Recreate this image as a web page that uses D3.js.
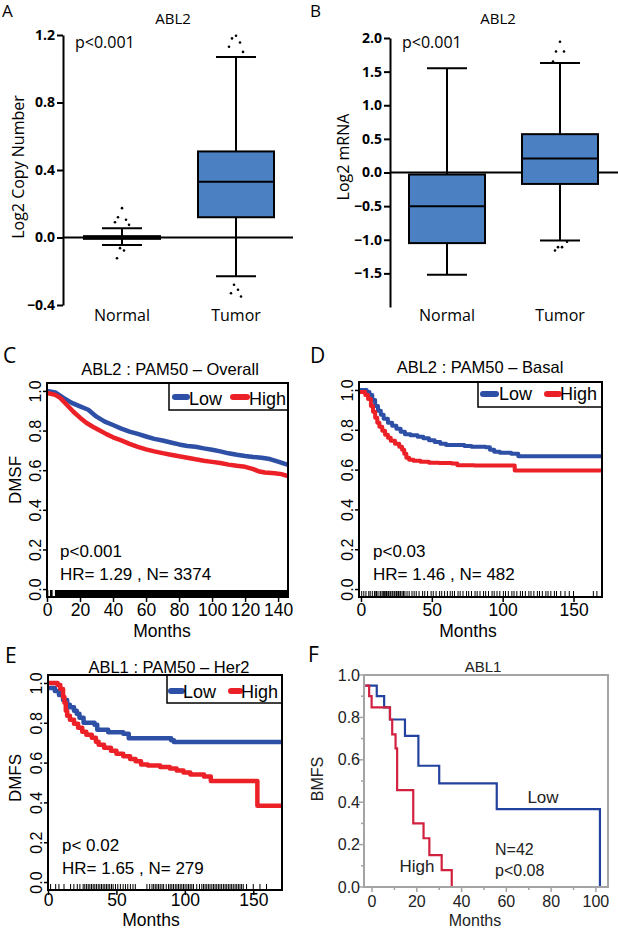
<!DOCTYPE html>
<html><head><meta charset="utf-8">
<script src="https://cdn.jsdelivr.net/npm/d3@7"></script>
<style>body{margin:0;background:#fff}svg{display:block}</style>
</head><body>
<svg id="chart" width="618" height="930"></svg>
<script>
// ---------------- DATA ----------------
const groups = ["Normal", "Tumor"];
// box stats: [lower whisker, Q1, median, Q3, upper whisker]
const copyNumberStats = [[-0.045, -0.008, 0, 0.008, 0.055], [-0.23, 0.12, 0.33, 0.51, 1.07]];
const copyNumberOutliers = [[0.174, 0.12, 0.105, 0.09, 0.075, -0.063, -0.077, -0.123],
                            [1.196, 1.18, 1.156, 1.13, 1.10, -0.28, -0.31, -0.33, -0.35]];
const copyNumberTicks = [-0.4, 0, 0.4, 0.8, 1.2];
const mrnaStats = [[-1.52, -1.05, -0.5, -0.03, 1.55], [-1.01, -0.17, 0.21, 0.57, 1.63]];
const mrnaOutliers = [[], [1.945, 1.80, 1.80, 1.65, -1.03, -1.11, -1.11, -1.16]];
const mrnaTicks = [-1.5, -1, -0.5, 0, 0.5, 1, 1.5, 2];

const kmLegendLabels = ["Low", "High"];
const survTicks = [0, 0.2, 0.4, 0.6, 0.8, 1.0];

// C: ABL2 PAM50 overall  [months, survival]
const kmCLow = [[0,1.0],[5,0.992],[10,0.965],[15,0.94],[20,0.922],[25,0.905],[30,0.87],[35,0.845],[40,0.828],[45,0.81],[50,0.795],[55,0.783],[60,0.77],[65,0.758],[70,0.75],[75,0.74],[80,0.73],[85,0.722],[90,0.718],[95,0.71],[100,0.703],[105,0.695],[110,0.685],[115,0.678],[120,0.672],[125,0.667],[130,0.663],[135,0.656],[140,0.643],[146,0.627]];
const kmCHigh = [[0,0.99],[5,0.98],[8,0.965],[12,0.93],[16,0.895],[20,0.865],[24,0.838],[28,0.818],[32,0.80],[36,0.782],[40,0.766],[45,0.75],[50,0.733],[55,0.718],[60,0.705],[65,0.695],[70,0.686],[75,0.678],[80,0.67],[85,0.663],[90,0.655],[95,0.648],[100,0.642],[105,0.636],[110,0.628],[115,0.622],[120,0.617],[125,0.605],[128,0.595],[132,0.588],[138,0.585],[142,0.58],[146,0.57]];
const kmCCensorBands = [[0,0.8],[1.8,3.4],[4.8,146]];
const kmCTicks = [0,20,40,60,80,100,120,140];

// D: ABL2 PAM50 basal
const kmDLow = [[-1.4,1.0],[4,0.99],[6,0.975],[8,0.95],[10,0.92],[12,0.895],[14,0.875],[16,0.855],[19,0.835],[22,0.82],[25,0.805],[28,0.79],[31,0.778],[35,0.772],[40,0.765],[44,0.757],[48,0.748],[52,0.738],[56,0.73],[60,0.723],[73,0.718],[78,0.715],[88,0.712],[91,0.70],[94,0.69],[98,0.685],[106,0.68],[111,0.667],[170.1,0.667]];
const kmDHigh = [[-1.4,0.99],[3,0.975],[5,0.955],[7,0.92],[8.5,0.89],[10,0.86],[11.5,0.835],[13,0.815],[15,0.795],[17,0.775],[19,0.76],[21,0.745],[24,0.73],[27,0.715],[29,0.70],[30.5,0.68],[32,0.66],[34,0.65],[37,0.645],[42,0.64],[48,0.635],[55,0.633],[64,0.63],[68,0.622],[80,0.62],[108.5,0.595],[170.1,0.595]];
const kmDCensor = [0.5,2,3.5,5.5,6.5,8,9.5,10.5,11,12,13.5,14,15,16,16.5,17.5,18,19,19.5,20.5,21,22,22.5,23.5,24,25,25.5,26.5,27.5,28,29,30,31,32.5,34,36,37.5,39,41,43.5,45,47,49.5,51,53,55.5,57,59,61,63,64.5,66,68.5,70,72,74.5,76,78,80.5,82,84,86.5,88,90,92.5,94,96,98,100.5,102,104,106.5,108,110,112.5,114,116,118.5,120,122,124.5,126,128,130.5,132,134,136.5,138,141,144,147,150,164,166.5];
const kmDTicks = [0,50,100,150];

// E: ABL1 PAM50 Her2
const kmELow = [[0,0.975],[5,0.96],[8,0.94],[11,0.915],[14,0.89],[16,0.878],[19,0.86],[21,0.845],[23,0.825],[26,0.80],[34,0.79],[36,0.765],[44,0.753],[55,0.745],[59,0.722],[90,0.712],[92,0.703],[171,0.703]];
const kmEHigh = [[0,1.0],[7,0.99],[9,0.97],[11,0.93],[12,0.90],[13,0.86],[14,0.835],[16,0.815],[19,0.795],[22,0.775],[25,0.755],[28,0.74],[32,0.725],[35,0.705],[37,0.69],[41,0.675],[46,0.66],[50,0.645],[55,0.632],[60,0.618],[64,0.607],[68,0.59],[73,0.585],[82,0.578],[89,0.57],[94,0.56],[99,0.55],[104,0.54],[114,0.53],[119,0.507],[153,0.383],[171,0.383]];
const kmECensor = [1.9,5.6,8,11.7,16.5,18.9,21.4,23.3,25.7,26.9,28.2,29.4,30.6,31.8,33,34.2,35.4,36.7,37.9,39.1,40.3,41.5,42.7,43.9,45.1,46.4,47.6,49.3,51,52.9,54.9,56.6,58.3,60.2,62.1,63.8,72.3,74.3,76,77.2,78.4,79.6,80.8,82,83.3,84.5,86.4,88.1,89.3,90.5,91.7,93,94.2,95.4,96.6,97.8,99,100.2,101.5,102.7,103.9,105.1,106.3,108.7,110.7,112.4,113.6,114.8,116,117.2,118.4,119.7,120.9,122.1,123.3,124.5,125.7,126.9,128.2,129.4,130.6,131.8,133,134.2,135.4,136.7,137.9,139.1,140.3,141.5,142.7,145.1,150,154.9,159.7];
const kmETicks = [0,50,100,150];

// F: ABL1 BMFS (JMP style)
const fLow = [[-3,0.95],[2.1,0.90],[5.4,0.847],[8,0.79],[14.7,0.713],[20.7,0.572],[30,0.489],[55.7,0.367],[101.8,0]];
const fHigh = [[-3,0.95],[-1.3,0.90],[-0.2,0.847],[8,0.79],[9,0.72],[10.5,0.654],[11.2,0.457],[18.4,0.30],[23,0.23],[25.6,0.15],[31.1,0.08],[35.6,0]];
const fXTicks = [0,20,40,60,80,100];
const fXMinor = [10,30,50,70,90];
const fYTicks = [0,0.2,0.4,0.6,0.8,1.0];
const fYMinor = [0.1,0.3,0.5,0.7,0.9];

// ---------------- DRAWING ----------------
const FA = "'Open Sans','Noto Sans',sans-serif";
const FR = "'Liberation Sans',Arial,sans-serif";
const BOX_FILL = "#4b80c3";
const KM_COLORS = ["#2e4fa6", "#ec2127"];
const F_COLORS = ["#2342a0", "#d2213f"];
const svg = d3.select("#chart");

function txt(g, x, y, s, o = {}) {
  return g.append("text").attr("x", x).attr("y", y).text(s)
    .attr("font-family", o.ff || FR).attr("font-size", o.fs || 17)
    .attr("font-weight", o.fw || "normal").attr("text-anchor", o.anchor || "start")
    .attr("fill", o.fill || "#000");
}
function vtxt(g, x, y, s, o = {}) {
  return txt(g, 0, 0, s, Object.assign({}, o, {anchor: "middle"}))
    .attr("transform", `translate(${x},${y}) rotate(-90)`);
}

// ----- Box panels (A, B) -----
function boxPanel(o) {
  const g = svg.append("g");
  const y = d3.scaleLinear().domain(o.domain).range([o.bottom, o.top]);
  const x = d3.scalePoint().domain(groups).range([o.c0, o.c1]);
  const ax = g.append("g").attr("transform", `translate(${o.axisX},0)`)
    .call(d3.axisLeft(y).tickValues(o.ticks).tickFormat(d3.format(".1f")).tickSize(6).tickSizeOuter(0));
  ax.selectAll("path,line").attr("stroke", "#000").attr("stroke-width", 2);
  ax.selectAll("text").attr("font-family", FA).attr("font-weight", "bold").attr("font-size", 14).attr("fill", "#000").attr("x", -8);
  g.append("line").attr("x1", o.axisX).attr("x2", o.zeroEnd).attr("y1", y(0)).attr("y2", y(0))
    .attr("stroke", "#000").attr("stroke-width", 2);
  o.stats.forEach((s, i) => {
    const cx = x(groups[i]);
    const bw = 76, cw = 40;
    g.append("line").attr("x1", cx).attr("x2", cx).attr("y1", y(s[0])).attr("y2", y(s[4])).attr("stroke", "#000").attr("stroke-width", 2);
    [s[0], s[4]].forEach(v => g.append("line").attr("x1", cx - cw / 2).attr("x2", cx + cw / 2).attr("y1", y(v)).attr("y2", y(v)).attr("stroke", "#000").attr("stroke-width", 2));
    g.append("rect").attr("x", cx - bw / 2).attr("width", bw).attr("y", y(s[3])).attr("height", y(s[1]) - y(s[3]))
      .attr("fill", BOX_FILL).attr("stroke", "#000").attr("stroke-width", 2);
    g.append("line").attr("x1", cx - bw / 2).attr("x2", cx + bw / 2).attr("y1", y(s[2])).attr("y2", y(s[2])).attr("stroke", "#000").attr("stroke-width", 2);
    const jit = [0, -4, 4, -7, 7, -2, 2, -5, 5];
    g.selectAll(null).data(o.outliers[i]).join("circle")
      .attr("cx", (d, k) => cx + jit[k % jit.length]).attr("cy", d => y(d)).attr("r", 1.3).attr("fill", "#000");
    txt(g, cx, o.labelY, groups[i], {ff: FA, fs: 16, anchor: "middle"});
  });
  txt(g, o.titleX, 24, "ABL2", {ff: FA, fs: 15, anchor: "middle"});
  txt(g, o.pX, 48, "p<0.001", {ff: FA, fs: 16});
  vtxt(g, o.ylabX, o.ylabY, o.ylab, {ff: FA, fs: 16});
  txt(g, o.letterX, 17, o.letter, {ff: FA, fs: 17});
}

boxPanel({domain: [-0.4, 1.2], top: 35, bottom: 305, c0: 122, c1: 236, axisX: 63, zeroEnd: 293,
  ticks: copyNumberTicks, stats: copyNumberStats, outliers: copyNumberOutliers, labelY: 321,
  titleX: 173, pX: 75, ylab: "Log2 Copy Number", ylabX: 24, ylabY: 167, letter: "A", letterX: 2});
boxPanel({domain: [-2, 2], top: 38, bottom: 307, c0: 447, c1: 560, axisX: 390, zeroEnd: 618,
  ticks: mrnaTicks, stats: mrnaStats, outliers: mrnaOutliers, labelY: 321,
  titleX: 498, pX: 402, ylab: "Log2 mRNA", ylabX: 349, ylabY: 157, letter: "B", letterX: 310});

// ----- KM panels (C, D, E) -----
function kmPanel(c) {
  const g = svg.append("g");
  const x = d3.scaleLinear().domain(c.xDomain).range([c.left, c.right]);
  const y = d3.scaleLinear().domain([-0.04, 1.04]).range([c.bottom, c.top]);
  const clipId = "clip" + c.id;
  svg.append("clipPath").attr("id", clipId).append("rect")
    .attr("x", c.left).attr("y", c.top).attr("width", c.right - c.left).attr("height", c.bottom - c.top);
  const line = d3.line().x(d => x(d[0])).y(d => y(d[1])).curve(c.curve);
  const cg = g.append("g").attr("clip-path", `url(#${clipId})`);
  c.series.forEach((s, i) => cg.append("path").attr("d", line(s)).attr("fill", "none")
    .attr("stroke", KM_COLORS[i]).attr("stroke-width", c.lw).attr("stroke-linejoin", "round"));
  if (c.bands) c.bands.forEach(b => cg.append("rect").attr("x", x(b[0])).attr("width", x(b[1]) - x(b[0]))
    .attr("y", c.bottom - 7).attr("height", 7).attr("fill", "#000"));
  if (c.rug) cg.selectAll(null).data(c.rug).join("line").attr("x1", d => x(d)).attr("x2", d => x(d))
    .attr("y1", c.bottom).attr("y2", c.bottom - 6).attr("stroke", "#000").attr("stroke-width", 1);
  const L = c.legend;
  g.append("rect").attr("x", L.x0).attr("y", L.y0).attr("width", L.x1 - L.x0).attr("height", L.y1 - L.y0)
    .attr("fill", "#fff").attr("stroke", "#000").attr("stroke-width", 1.5);
  kmLegendLabels.forEach((name, i) => {
    g.append("line").attr("x1", L.seg[i][0]).attr("x2", L.seg[i][1]).attr("y1", L.segY).attr("y2", L.segY)
      .attr("stroke", KM_COLORS[i]).attr("stroke-width", 6).attr("stroke-linecap", "round");
    txt(g, L.tx[i], L.base, name, {fs: 18});
  });
  g.append("rect").attr("x", c.left).attr("y", c.top).attr("width", c.right - c.left).attr("height", c.bottom - c.top)
    .attr("fill", "none").attr("stroke", "#000").attr("stroke-width", 2);
  const xa = g.append("g").attr("transform", `translate(0,${c.bottom})`)
    .call(d3.axisBottom(x).tickValues(c.xTicks).tickSize(5).tickSizeOuter(0).tickFormat(d3.format("d")));
  xa.select(".domain").remove();
  xa.selectAll("line").attr("stroke", "#000").attr("stroke-width", 1.5);
  xa.selectAll("text").attr("font-family", FR).attr("font-size", 17.5).attr("fill", "#000")
    .attr("y", c.tickOff).attr("dy", 0);
  const ya = g.append("g").attr("transform", `translate(${c.left},0)`)
    .call(d3.axisLeft(y).tickValues(survTicks).tickSize(4).tickSizeOuter(0).tickFormat(d3.format(".1f")));
  ya.select(".domain").remove();
  ya.selectAll("line").attr("stroke", "#000").attr("stroke-width", 1.5);
  ya.selectAll("text").attr("font-family", FR).attr("font-size", 16).attr("fill", "#000")
    .attr("transform", "rotate(-90)").attr("x", 0).attr("y", -6).attr("dy", 0).attr("text-anchor", "middle");
  txt(g, c.titleX, c.titleY, c.title, {fs: 16.5, anchor: "middle"});
  txt(g, c.pX, c.pY, c.pText, {fs: 17});
  txt(g, c.pX, c.pY + 23, c.hrText, {fs: 17});
  txt(g, c.monthsX, c.monthsY, "Months", {fs: 17.5, anchor: "middle"});
  if (c.ylab) vtxt(g, c.ylabX, c.ylabY, c.ylab, {fs: 17});
  txt(g, c.letterX, c.letterY, c.letter, {ff: FA, fs: 21});
}

kmPanel({id: "C", left: 47, right: 288, top: 383, bottom: 597, xDomain: [0, 146], xTicks: kmCTicks, tickOff: 19,
  series: [kmCLow, kmCHigh], curve: d3.curveLinear, lw: 4.5, bands: kmCCensorBands,
  legend: {x0: 169, y0: 383, x1: 288, y1: 410, seg: [[175, 187], [233, 247]], segY: 397, tx: [189, 249], base: 405},
  title: "ABL2 : PAM50 \u2013 Overall", titleX: 170, titleY: 375, pX: 60, pY: 557,
  pText: "p<0.001", hrText: "HR= 1.29 ,  N= 3374", monthsX: 162, monthsY: 637,
  ylab: "DMSF", ylabX: 21, ylabY: 480, letter: "C", letterX: 3, letterY: 363});
kmPanel({id: "D", left: 359, right: 602, top: 382, bottom: 597, xDomain: [-1.4, 170.1], xTicks: kmDTicks, tickOff: 19,
  series: [kmDLow, kmDHigh], curve: d3.curveStepAfter, lw: 4, rug: kmDCensor,
  legend: {x0: 478, y0: 382, x1: 602, y1: 407, seg: [[483, 496], [547, 559]], segY: 394, tx: [499, 560], base: 400},
  title: "ABL2 : PAM50 \u2013 Basal", titleX: 480, titleY: 373, pX: 373, pY: 557,
  pText: "p<0.03", hrText: "HR= 1.46 ,  N= 482", monthsX: 468, monthsY: 637,
  letter: "D", letterX: 310, letterY: 363});
kmPanel({id: "E", left: 48, right: 282, top: 675, bottom: 890, xDomain: [0, 171], xTicks: kmETicks, tickOff: 16,
  series: [kmELow, kmEHigh], curve: d3.curveStepAfter, lw: 4.5, rug: kmECensor,
  legend: {x0: 167, y0: 675, x1: 282, y1: 703, seg: [[171, 182], [231, 240]], segY: 691, tx: [183, 241], base: 698},
  title: "ABL1 : PAM50 \u2013 Her2", titleX: 169, titleY: 673, pX: 62, pY: 851,
  pText: "p< 0.02", hrText: "HR= 1.65 ,  N= 279", monthsX: 151, monthsY: 926,
  ylab: "DMFS", ylabX: 21, ylabY: 778, letter: "E", letterX: 5, letterY: 663});

// ----- Panel F -----
(function () {
  const g = svg.append("g");
  const GRAY = "#a4a4a4";
  const L = 364, R = 608, T = 675, B = 887;
  const x = d3.scaleLinear().domain([-3.6, 105.4]).range([L, R]);
  const y = d3.scaleLinear().domain([0, 1]).range([B, T]);
  const line = d3.line().x(d => x(d[0])).y(d => y(d[1])).curve(d3.curveStepAfter);
  [fLow, fHigh].forEach((s, i) => g.append("path").attr("d", line(s)).attr("fill", "none")
    .attr("stroke", F_COLORS[i]).attr("stroke-width", 2.2));
  g.append("rect").attr("x", L).attr("y", T).attr("width", R - L).attr("height", B - T)
    .attr("fill", "none").attr("stroke", GRAY).attr("stroke-width", 2);
  g.selectAll(null).data(fXTicks.map(v => [v, 5]).concat(fXMinor.map(v => [v, 3]))).join("line")
    .attr("x1", d => x(d[0])).attr("x2", d => x(d[0])).attr("y1", B).attr("y2", d => B + d[1])
    .attr("stroke", GRAY).attr("stroke-width", 1.5);
  g.selectAll(null).data(fYTicks.map(v => [v, 5]).concat(fYMinor.map(v => [v, 3]))).join("line")
    .attr("x1", L).attr("x2", d => L - d[1]).attr("y1", d => y(d[0])).attr("y2", d => y(d[0]))
    .attr("stroke", GRAY).attr("stroke-width", 1.5);
  fXTicks.forEach(v => txt(g, x(v), 907, d3.format("d")(v), {fs: 16, anchor: "middle", fill: "#222"}));
  fYTicks.forEach(v => txt(g, 360, y(v) + 5.5, d3.format(".1f")(v), {fs: 16, anchor: "end", fill: "#222"}));
  txt(g, 483, 672, "ABL1", {fs: 15, anchor: "middle", fill: "#222"});
  txt(g, 543, 803, "Low", {fs: 17, anchor: "middle", fill: "#222"});
  txt(g, 417, 872, "High", {fs: 17, anchor: "middle", fill: "#222"});
  txt(g, 495, 855, "N=42", {fs: 16, fill: "#222"});
  txt(g, 495, 876, "p<0.08", {fs: 16, fill: "#222"});
  txt(g, 475, 926, "Months", {fs: 16, anchor: "middle", fill: "#222"});
  vtxt(g, 323, 779, "BMFS", {fs: 16, fill: "#222"});
  txt(g, 308, 662, "F", {ff: FA, fs: 21});
})();
</script>
</body></html>
